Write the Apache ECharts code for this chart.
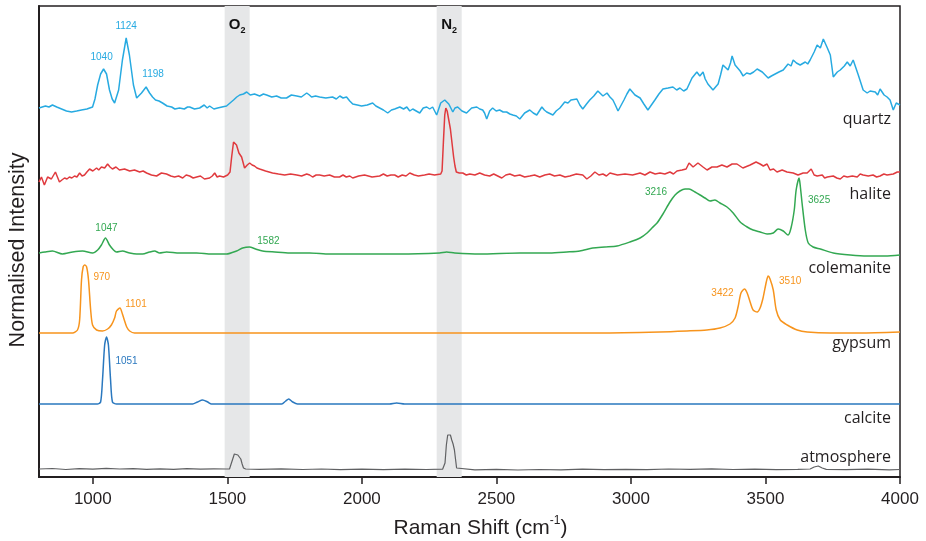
<!DOCTYPE html>
<html><head><meta charset="utf-8">
<script src="https://cdn.jsdelivr.net/npm/echarts@6/dist/echarts.min.js"></script>
<style>html,body{margin:0;padding:0;background:#fff}#c{width:926px;height:541px}</style>
</head><body><div id="c"></div>
<script>
// ---------------- data (Raman shift cm-1, stacked normalised intensity) ----------------
const xTicks = [1000, 1500, 2000, 2500, 3000, 3500, 4000];
const bandO2 = [1490, 1583];
const bandN2 = [2278, 2371];
const seriesNames = ['quartz', 'halite', 'colemanite', 'gypsum', 'calcite', 'atmosphere'];

const quartz = [[800,369],[812,370],[824,371],[837,370],[850,372],[866,370],[884,368],[902,366],[921,365],[940,366],[958,367],[978,368],[999,370],[1008,378],[1018,392],[1029,403],[1040,408],[1051,403],[1062,387],[1072,378],[1081,374],[1096,387],[1110,417],[1124,439],[1136,422],[1151,392],[1163,379],[1181,384],[1198,390],[1211,384],[1222,380],[1233,377],[1246,376],[1259,374],[1276,371],[1293,370],[1305,368],[1322,369],[1340,368],[1352,370],[1360,370],[1378,368],[1397,369],[1414,372],[1425,369],[1434,371],[1450,368],[1464,369],[1480,370],[1497,371],[1510,374],[1523,377],[1535,380],[1546,382],[1560,383],[1572,385],[1585,382],[1601,383],[1620,381],[1634,383],[1646,382],[1665,380],[1683,381],[1700,379],[1720,379],[1738,382],[1758,381],[1775,380],[1795,384],[1805,382],[1813,380],[1828,381],[1843,380],[1866,379],[1891,380],[1905,378],[1918,381],[1930,379],[1943,380],[1955,376],[1966,373],[1983,372],[1999,371],[2020,372],[2040,374],[2052,371],[2066,369],[2080,367],[2096,364],[2110,367],[2122,368],[2141,370],[2155,368],[2167,370],[2178,366],[2189,368],[2202,366],[2215,364],[2228,369],[2241,370],[2252,368],[2263,370],[2278,362],[2293,374],[2308,377],[2323,373],[2338,365],[2346,369],[2356,370],[2372,366],[2389,364],[2408,369],[2427,370],[2438,368],[2449,367],[2456,364],[2464,358],[2475,366],[2486,369],[2499,366],[2512,367],[2525,365],[2538,365],[2550,363],[2561,362],[2574,361],[2587,358],[2605,364],[2624,367],[2637,364],[2650,362],[2669,370],[2678,367],[2687,365],[2710,362],[2722,366],[2736,369],[2754,375],[2766,374],[2777,377],[2799,378],[2810,372],[2821,368],[2835,373],[2847,377],[2862,381],[2877,386],[2896,381],[2911,384],[2922,380],[2933,377],[2942,372],[2952,366],[2962,371],[2974,377],[2985,383],[2996,388],[3015,382],[3034,379],[3048,373],[3063,367],[3076,372],[3089,377],[3104,383],[3119,388],[3138,389],[3156,390],[3170,387],[3182,389],[3196,386],[3208,388],[3227,399],[3236,402],[3245,405],[3256,401],[3268,405],[3276,398],[3286,393],[3305,387],[3324,393],[3333,402],[3342,412],[3361,407],[3370,414],[3376,421],[3387,412],[3406,406],[3417,401],[3430,404],[3443,403],[3456,405],[3469,408],[3488,405],[3499,402],[3510,399],[3522,401],[3536,403],[3550,405],[3566,407],[3584,413],[3595,411],[3603,417],[3615,414],[3629,412],[3648,415],[3657,413],[3666,417],[3681,425],[3692,432],[3704,429],[3715,438],[3730,429],[3741,422],[3752,400],[3767,405],[3778,407],[3793,411],[3804,415],[3815,411],[3826,417],[3845,402],[3863,387],[3878,384],[3889,386],[3908,385],[3917,382],[3926,388],[3941,382],[3952,380],[3963,377],[3975,367],[3986,374],[4000,372]];

const halite = [[800,295],[809,300],[820,292],[832,300],[846,298],[861,305],[876,295],[885,297],[895,299],[904,298],[913,300],[922,299],[932,301],[941,300],[951,304],[960,301],[969,302],[978,305],[988,308],[1000,306],[1014,309],[1022,307],[1032,310],[1044,309],[1055,313],[1064,310],[1073,308],[1086,310],[1099,307],[1118,308],[1137,306],[1155,307],[1174,305],[1187,306],[1200,304],[1218,302],[1237,301],[1255,304],[1274,303],[1290,301],[1304,300],[1319,301],[1334,299],[1347,302],[1360,301],[1373,299],[1386,300],[1400,301],[1415,298],[1434,299],[1444,301],[1453,304],[1462,300],[1471,301],[1486,300],[1501,302],[1510,305],[1516,320],[1523,335],[1534,332],[1543,324],[1553,320],[1564,309],[1574,312],[1583,314],[1592,312],[1601,311],[1610,309],[1620,308],[1631,307],[1642,306],[1655,305],[1668,304],[1690,303],[1713,302],[1735,303],[1758,302],[1776,301],[1795,303],[1806,302],[1817,300],[1830,302],[1843,302],[1860,301],[1880,302],[1898,300],[1917,300],[1930,302],[1942,300],[1955,301],[1966,299],[1988,301],[2010,302],[2038,300],[2066,301],[2080,303],[2094,301],[2108,302],[2122,302],[2135,300],[2150,302],[2164,301],[2178,304],[2195,302],[2210,301],[2233,302],[2250,303],[2270,302],[2293,303],[2298,306],[2303,335],[2308,362],[2312,369],[2317,366],[2323,357],[2329,348],[2335,334],[2341,320],[2346,311],[2351,305],[2362,304],[2375,304],[2388,302],[2401,303],[2420,302],[2438,304],[2456,302],[2475,301],[2490,303],[2505,301],[2520,299],[2535,302],[2550,303],[2568,301],[2587,302],[2605,300],[2624,301],[2642,302],[2661,300],[2680,302],[2698,303],[2716,301],[2736,302],[2755,300],[2773,301],[2797,303],[2821,302],[2836,298],[2851,301],[2866,305],[2881,302],[2896,303],[2909,301],[2922,304],[2950,302],[2978,303],[3006,302],[3034,304],[3052,302],[3071,305],[3090,303],[3108,304],[3126,303],[3145,305],[3158,303],[3171,306],[3190,307],[3205,308],[3216,314],[3231,310],[3249,314],[3268,310],[3283,307],[3301,310],[3320,310],[3338,312],[3357,310],[3376,313],[3394,313],[3416,309],[3443,312],[3465,315],[3480,313],[3492,311],[3506,313],[3517,307],[3530,308],[3543,305],[3562,307],[3580,305],[3603,304],[3621,302],[3640,304],[3655,304],[3670,308],[3681,302],[3692,301],[3711,302],[3720,299],[3730,300],[3752,301],[3765,299],[3778,298],[3791,301],[3804,300],[3823,301],[3841,300],[3852,303],[3863,302],[3882,301],[3900,302],[3913,300],[3926,301],[3940,303],[3952,302],[3975,303],[3990,305],[4000,305]];

const colemanite = [[800,224],[822,225],[850,226],[887,223],[925,225],[962,226],[999,224],[1018,227],[1032,232],[1047,239],[1062,232],[1077,227],[1088,225],[1110,226],[1137,224],[1163,223],[1185,223],[1211,225],[1230,226],[1248,224],[1274,225],[1322,224],[1386,224],[1441,223],[1497,223],[1534,226],[1557,229],[1582,230],[1605,228],[1631,226],[1676,225],[1732,224],[1806,224],[1880,223],[1992,223],[2141,223],[2289,224],[2315,225],[2345,224],[2438,223],[2587,224],[2698,224],[2762,225],[2810,226],[2858,229],[2903,230],[2948,231],[2996,235],[3034,239],[3060,244],[3078,249],[3097,254],[3119,263],[3145,275],[3164,282],[3182,286],[3201,288],[3216,288],[3238,285],[3257,282],[3275,279],[3294,276],[3312,277],[3331,274],[3357,270],[3380,264],[3406,255],[3432,250],[3454,247],[3480,245],[3506,243],[3529,244],[3547,248],[3566,246],[3584,242],[3595,249],[3607,267],[3614,287],[3625,299],[3629,292],[3636,274],[3648,247],[3659,234],[3677,230],[3704,228],[3752,224],[3815,222],[3878,221],[3945,221],[4000,222]];

const gypsum = [[800,144],[876,144],[925,144],[943,147],[951,157],[958,197],[964,210],[970,212],[977,210],[984,197],[992,167],[999,152],[1014,147],[1036,146],[1055,148],[1069,152],[1081,159],[1088,166],[1101,169],[1110,163],[1117,157],[1126,150],[1137,146],[1155,144],[1397,144],[1769,144],[2141,144],[2512,144],[2884,144],[3108,145],[3208,146],[3282,147],[3331,149],[3368,153],[3387,159],[3398,170],[3409,184],[3422,188],[3432,184],[3443,175],[3454,167],[3469,165],[3480,169],[3491,179],[3503,195],[3510,201],[3517,198],[3529,187],[3540,167],[3555,157],[3581,152],[3618,147],[3655,145],[3741,144],[3852,144],[4000,145]];

const calcite = [[800,73],[1017,73],[1029,75],[1036,97],[1044,132],[1051,140],[1058,132],[1066,97],[1073,75],[1088,73],[1371,73],[1389,75],[1408,77],[1427,75],[1441,73],[1702,73],[1717,76],[1728,78],[1743,75],[1761,73],[2103,73],[2129,74],[2159,73],[4000,73]];

const atmosphere = [[800,8],[850,8.5],[900,7.5],[950,8.3],[1000,7.8],[1050,8.6],[1100,8],[1150,8.4],[1200,7.7],[1250,8.2],[1300,7.6],[1350,8.3],[1400,7.9],[1450,8.1],[1497,8],[1508,8],[1514,10],[1520,18],[1526,23],[1533,24],[1539,22],[1545,20],[1550,18],[1555,13],[1560,9],[1568,8],[1620,7.6],[1700,8.2],[1780,7.5],[1850,8],[1920,7.4],[2000,7.8],[2080,7.3],[2160,7.9],[2240,7.5],[2300,7.8],[2304,8],[2309,14],[2314,32],[2319,42],[2324,44],[2329,42],[2334,37],[2339,33],[2344,27],[2348,18],[2352,9],[2356,7.5],[2420,7.2],[2500,7.6],[2580,7.0],[2660,7.5],[2740,7.2],[2820,7.8],[2900,7.3],[2980,7.7],[3060,7.4],[3140,8.0],[3220,7.6],[3300,8.2],[3380,7.5],[3460,7.8],[3540,7.3],[3620,7.7],[3666,8],[3681,10],[3696,11],[3711,9],[3726,7.6],[3800,7.3],[3880,7.8],[3960,7.2],[4000,7.5]];

// peak annotations: [label wavenumber, intensity at peak]
const quartzPeaks = [[1040,408],[1124,439],[1198,390]];
const colemanitePeaks = [[1047,239],[1582,230],[3216,288],[3625,299]];
const gypsumPeaks = [[970,212],[1101,169],[3422,188],[3510,201]];
const calcitePeaks = [[1051,140]];

// ---------------- styling / layout ----------------
const colors = {quartz:'#27AAE1', halite:'#E03A3E', colemanite:'#33A852', gypsum:'#F7941D', calcite:'#2A78BF', atmosphere:'#606163'};
const peakOffsets = {
  quartz: [[-2,-12],[0,-12],[7,-13]],
  colemanite: [[1,-10],[19,-6],[-33,3],[20,22]],
  gypsum: [[17,12],[16,-4],[-22,4],[22,5]],
  calcite: [[20,24]]
};
const nameLabelY = [122,197,271,346,421,460];

function peakMarks(peaks, offs, color) {
  return {
    symbol: 'circle', symbolSize: 0, silent: true, animation: false,
    label: {show: true, position: 'inside', color: color, fontSize: 10, fontFamily: 'Liberation Sans, Arial, sans-serif',
      formatter: p => p.name},
    data: peaks.map((p, i) => ({name: String(p[0]), coord: [p[0], p[1]], label: {offset: offs[i]}}))
  };
}

const data = {quartz, halite, colemanite, gypsum, calcite, atmosphere};
const peaks = {quartz: quartzPeaks, colemanite: colemanitePeaks, gypsum: gypsumPeaks, calcite: calcitePeaks};

const series = [{
  type: 'line', data: [], z: 1, silent: true,
  markArea: {
    silent: true,
    itemStyle: {color: '#E6E7E8'},
    label: {show: true, position: 'insideTop', distance: 9, formatter: p => '{b|' + p.name + '}{s|2}',
      rich: {b: {fontSize: 15, fontWeight: 'bold', color: '#111', fontFamily: 'Liberation Sans, Arial, sans-serif', lineHeight: 20, verticalAlign: 'middle'},
             s: {fontSize: 9, fontWeight: 'bold', color: '#111', fontFamily: 'Liberation Sans, Arial, sans-serif', lineHeight: 9, verticalAlign: 'bottom'}}},
    data: [[{name: 'O', xAxis: bandO2[0]}, {xAxis: bandO2[1]}], [{name: 'N', xAxis: bandN2[0]}, {xAxis: bandN2[1]}]]
  }
}];
seriesNames.forEach(n => {
  const s = {name: n, type: 'line', data: data[n], z: 3, showSymbol: false, symbol: 'none', smooth: (n === 'gypsum' || n === 'calcite' || n === 'colemanite') ? 0.25 : false,
    lineStyle: {color: colors[n], width: n === 'atmosphere' ? 1.2 : 1.5}, itemStyle: {color: colors[n]}, animation: false};
  if (peaks[n]) s.markPoint = peakMarks(peaks[n], peakOffsets[n], colors[n]);
  series.push(s);
});

const chart = echarts.init(document.getElementById('c'), null, {renderer: 'canvas'});
chart.setOption({
  animation: false,
  backgroundColor: '#fff',
  grid: {left: 39, right: 26, top: 6, bottom: 64, show: true, borderColor: '#231F20', borderWidth: 1.5, backgroundColor: 'transparent',
    containLabel: false, outerBoundsMode: 'none'},
  xAxis: {
    type: 'value', min: 800, max: 4000,
    name: 'Raman Shift (cm{sup|-1})', nameLocation: 'middle', nameGap: 38,
    nameTextStyle: {fontSize: 21, color: '#231F20', fontFamily: 'Liberation Sans, Arial, sans-serif', padding: [0, 0, 0, 22], lineHeight: 26,
      rich: {sup: {fontSize: 12, lineHeight: 12, verticalAlign: 'top', color: '#231F20', fontFamily: 'Liberation Sans, Arial, sans-serif'}}},
    axisLine: {show: true, lineStyle: {color: '#231F20', width: 2}},
    axisTick: {show: true, length: 7, customValues: xTicks, lineStyle: {color: '#231F20', width: 1.5}},
    axisLabel: {show: true, customValues: xTicks, fontSize: 17, color: '#231F20', margin: 14, fontFamily: 'Liberation Sans, Arial, sans-serif',
      formatter: v => String(v)},
    splitLine: {show: false}
  },
  yAxis: {
    type: 'value', min: 0, max: 471,
    name: 'Normalised Intensity', nameLocation: 'middle', nameGap: 10, nameRotate: 90,
    nameTextStyle: {fontSize: 21.5, color: '#231F20', fontFamily: 'Liberation Sans, Arial, sans-serif', padding: [0, 17, 0, 0]},
    axisLine: {show: true, lineStyle: {color: '#231F20', width: 2}},
    axisTick: {show: false}, axisLabel: {show: false}, splitLine: {show: false}
  },
  graphic: seriesNames.map((n, i) => ({
    type: 'text', right: 35, top: nameLabelY[i] - 11, silent: true,
    style: {text: n, fontSize: 16, fill: '#231F20', fontFamily: 'Open Sans, sans-serif', textAlign: 'right'}
  })),
  series: series
});
</script>
</body></html>
